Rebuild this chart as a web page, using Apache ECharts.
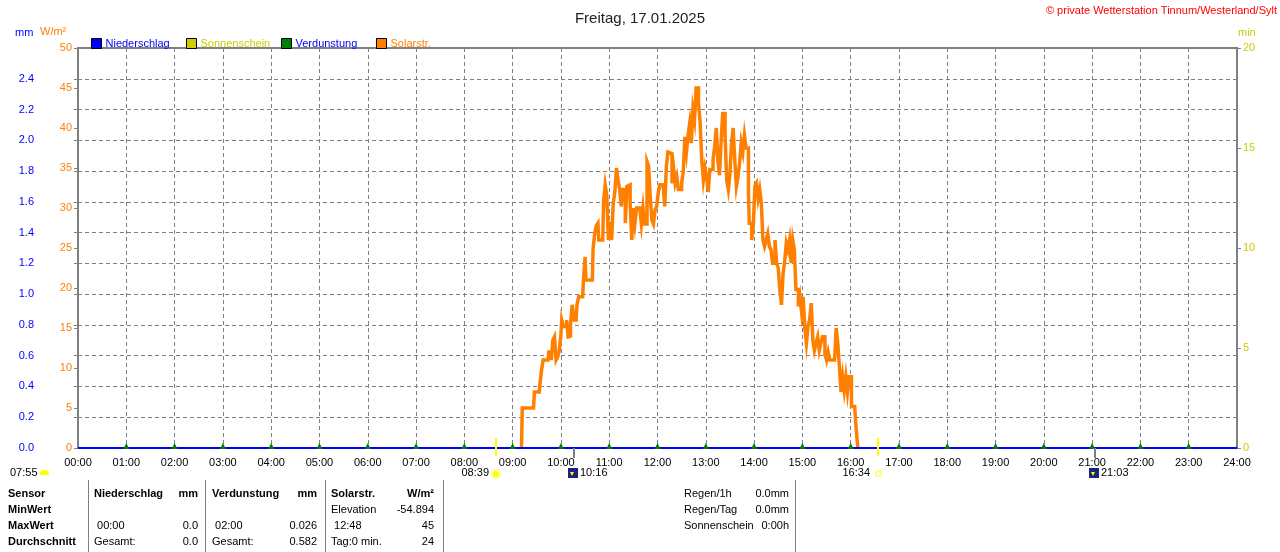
<!DOCTYPE html>
<html>
<head>
<meta charset="utf-8">
<style>
  html, body { margin: 0; padding: 0; background: #fff; }
  #chart { width: 1280px; height: 552px; }
</style>
<script src="https://cdn.jsdelivr.net/npm/echarts@6/dist/echarts.min.js"></script>
</head>
<body>
<div id="chart"></div>
<script>
  const FONT = '"Liberation Sans", Arial, sans-serif';

  // Solarstrahlung (W/m²), Zeit in Minuten seit 00:00
  const solarMinutes = [
    551, 552, 566, 567, 573, 574, 576, 578, 584, 585, 586, 588, 590, 592, 594, 596, 598, 600, 601,
    603, 607, 609, 611, 612, 614, 616, 619, 620, 622, 627, 628, 630, 631, 639, 640, 642, 644, 646, 647,
    652, 653, 655, 657, 659, 661, 663, 665, 667, 669, 671, 673, 675, 677, 680, 682, 684, 686, 688, 690,
    692, 694, 698, 700, 702, 704, 707, 709, 711, 713, 715, 717, 719, 721, 723, 727, 729, 731, 733, 735,
    738, 740, 742, 744, 746, 750, 752, 754, 756, 758, 760, 762, 764, 766, 768, 771, 773, 775, 777, 779,
    781, 783, 785, 789, 791, 793, 795, 797, 799, 801, 804, 806, 808, 810, 812, 814, 816, 818, 820, 822,
    824, 826, 828, 830, 833, 834, 837, 839, 841, 843, 845, 847, 849, 851, 853, 855, 857, 859, 861, 863,
    866, 868, 870, 872, 874, 876, 878, 880, 882, 884, 886, 888, 890, 892, 895, 897, 899, 901, 903, 905,
    907, 909, 911, 913, 915, 917, 919, 921, 923, 925, 928, 930, 932, 934, 940, 942, 944, 946, 948, 950,
    952, 954, 956, 958, 961, 965, 966, 968, 969
  ];
  const solarValues = [
    0, 5, 5, 7, 7, 8, 9.8, 11, 11, 12, 12, 11, 13.5, 13.9, 11, 11.4, 12.2, 14.2, 16,
    15.2, 16, 13.9, 14, 15.6, 17.9, 16, 16.4, 17.9, 18.9, 18.9, 21, 23.9, 21, 21, 25, 26.8, 27.8, 28.1, 26,
    26, 30.8, 32.9, 31.6, 26, 28.3, 26, 30.6, 32, 35, 33.5, 32.3, 30.2, 32.3, 28.1, 32.7, 32.9, 30.6, 26, 30,
    28.1, 30, 30, 28, 30, 28, 35.8, 35.2, 31.4, 28.5, 28, 29.8, 30.2, 32, 32.9, 32.9, 30.2, 35.2, 37, 36.8,
    33.1, 35, 33.1, 33.9, 32.3, 33.1, 34.5, 38.9, 37, 39.1, 40.6, 38.1, 42.3, 41, 45, 43.1, 40.6, 36, 33.5, 35,
    33.9, 32, 34.8, 36, 37.7, 40, 36, 34.1, 38.3, 41.8, 38.9, 33.5, 32.3, 34.3, 38.1, 40, 36, 32.7, 33.9, 35.6,
    38.1, 37, 39.1, 37.5, 32, 28.1, 26, 27.7, 32.7, 33.1, 31.2, 32.3, 30.6, 26, 25.2, 26, 26.8, 25.2, 24.8, 23.1,
    26, 23.1, 22.5, 19.8, 17.9, 21.8, 23.3, 25.6, 24.8, 26, 23.1, 26, 24.8, 19.8, 17.7, 18.9, 17, 18.9, 15, 13.1,
    15.2, 16, 18.1, 13.5, 12.2, 13.1, 13.9, 12.2, 13.1, 13.9, 11.8, 11, 12, 11, 11, 15, 13.1, 10.2, 7, 8.9,
    7.2, 8.9, 7, 8.9, 5.2, 5, 3.5, 1, 0
  ];

  // Niederschlag (mm)
  const rainMinutes = [0, 1440];
  const rainValues = [0, 0];

  // Verdunstung (mm), stündliche Marker
  const evapMinutes = [60, 120, 180, 240, 300, 360, 420, 480, 540, 600, 660, 720,
    780, 840, 900, 960, 1020, 1080, 1140, 1200, 1260, 1320, 1380];
  const evapValues = [0, 0, 0, 0, 0, 0, 0, 0, 0, 0, 0, 0, 0, 0, 0, 0, 0, 0, 0, 0, 0, 0, 0];

  // Sonnen-/Mondereignisse
  const events = [
    { time: "08:39", kind: "sunrise" },
    { time: "10:16", kind: "moonset" },
    { time: "16:34", kind: "sunset" },
    { time: "21:03", kind: "moonrise" },
  ];

  // Tabelle unten
  const tableHeader = ["Sensor", "Niederschlag", "mm", "Verdunstung", "mm", "Solarstr.", "W/m²"];
  const tableRowLabels = ["MinWert", "MaxWert", "Durchschnitt"];
  const rainCells = [["", ""], [" 00:00", "0.0"], ["Gesamt:", "0.0"]];
  const evapCells = [["", ""], [" 02:00", "0.026"], ["Gesamt:", "0.582"]];
  const solarCells = [["Elevation", "-54.894"], [" 12:48", "45"], ["Tag:0 min.", "24"]];
  const summaryLabels = ["Regen/1h", "Regen/Tag", "Sonnenschein"];
  const summaryValues = ["0.0mm", "0.0mm", "0:00h"];

  const colors = {
    rain: "#0000ff",
    sun: "#cccc00",
    evap: "#008000",
    solar: "#ff8000",
    grid: "#808080",
  };

  function pad(n) {
    return String(n).padStart(2, "0");
  }

  function toMin(hhmm) {
    const [h, m] = hhmm.split(":").map(Number);
    return h * 60 + m;
  }

  function zip(xs, ys) {
    return xs.map((x, i) => [x, ys[i]]);
  }

  function legendFor(name, left, color) {
    return {
      data: [name],
      left: left,
      top: 33,
      icon: "rect",
      itemWidth: 10,
      itemHeight: 10,
      selectedMode: false,
      itemStyle: { borderColor: "#000", borderWidth: 1 },
      textStyle: { color: color, fontSize: 11, fontFamily: FONT, padding: [1, 0, 0, -1] },
    };
  }

  function text(x, y, str, opts) {
    return {
      type: "text",
      silent: true,
      style: Object.assign(
        { x: x, y: y, text: str, fill: "#000", font: "11px " + FONT, align: "left", verticalAlign: "middle" },
        opts || {},
      ),
    };
  }

  const chart = echarts.init(document.getElementById("chart"));

  const option = {
    animation: false,
    backgroundColor: "#fff",
    textStyle: { fontFamily: FONT },
    title: {
      text: "Freitag, 17.01.2025",
      left: "center",
      top: 6,
      textStyle: { fontSize: 15, fontWeight: "normal", color: "#222", fontFamily: FONT },
    },
    legend: [
      legendFor("Niederschlag", 86, colors.rain),
      legendFor("Sonnenschein", 181, colors.sun),
      legendFor("Verdunstung", 276, colors.rain),
      legendFor("Solarstr.", 371, colors.solar),
    ],
    grid: {
      left: 78,
      right: 43,
      top: 48,
      bottom: 104,
      show: true,
      backgroundColor: "#fff",
      borderColor: colors.grid,
      borderWidth: 2,
    },
    xAxis: {
      type: "value",
      min: 0,
      max: 1440,
      interval: 60,
      axisLine: { show: false },
      axisTick: { show: false },
      axisLabel: {
        color: "#000",
        fontSize: 11,
        margin: 9,
        formatter: (v) => `${pad(Math.floor(v / 60))}:00`,
      },
      splitLine: { show: true, lineStyle: { color: colors.grid, type: [4, 3], width: 1 } },
    },
    yAxis: [
      {
        type: "value",
        min: 0,
        max: 2.6,
        interval: 0.2,
        position: "left",
        offset: 38,
        axisLine: { show: true, lineStyle: { color: colors.grid, width: 1 } },
        axisTick: { show: true, length: 4, lineStyle: { color: colors.grid } },
        axisLabel: {
          color: colors.rain,
          fontSize: 11,
          margin: 6,
          showMaxLabel: false,
          formatter: (v) => v.toFixed(1),
        },
        splitLine: { show: true, lineStyle: { color: colors.grid, type: [4, 3], width: 1 } },
      },
      {
        type: "value",
        min: 0,
        max: 50,
        interval: 5,
        position: "left",
        axisLine: { show: false },
        axisTick: { show: true, length: 4, lineStyle: { color: colors.grid } },
        axisLabel: { color: colors.solar, fontSize: 11, margin: 6 },
        splitLine: { show: false },
      },
      {
        type: "value",
        min: 0,
        max: 20,
        interval: 5,
        position: "right",
        axisLine: { show: false },
        axisTick: { show: true, length: 4, lineStyle: { color: colors.grid } },
        axisLabel: { color: colors.sun, fontSize: 11, margin: 6 },
        splitLine: { show: false },
      },
    ],
    series: [
      {
        name: "Niederschlag",
        type: "line",
        yAxisIndex: 0,
        data: zip(rainMinutes, rainValues),
        showSymbol: false,
        itemStyle: { color: colors.rain },
        lineStyle: { color: colors.rain, width: 2 },
        z: 6,
      },
      {
        name: "Sonnenschein",
        type: "line",
        yAxisIndex: 2,
        data: [],
        itemStyle: { color: colors.sun },
      },
      {
        name: "Verdunstung",
        type: "line",
        yAxisIndex: 0,
        data: zip(evapMinutes, evapValues),
        symbol: "triangle",
        symbolSize: [6, 6],
        symbolOffset: [0, -2],
        itemStyle: { color: colors.evap },
        lineStyle: { width: 0 },
        z: 7,
      },
      {
        name: "Solarstr.",
        type: "line",
        yAxisIndex: 1,
        data: zip(solarMinutes, solarValues),
        step: "end",
        showSymbol: false,
        itemStyle: { color: colors.solar },
        lineStyle: { color: colors.solar, width: 3.5, join: "miter" },
        z: 5,
      },
    ],
  };

  chart.setOption(option);

  const graphics = [];

  // axis names and header texts
  graphics.push(text(15, 33, "mm", { fill: colors.rain }));
  graphics.push(text(40, 32, "W/m²", { fill: colors.solar }));
  graphics.push(text(1238, 33, "min", { fill: colors.sun }));
  graphics.push(
    text(1277, 11, "© private Wetterstation Tinnum/Westerland/Sylt", { fill: "#ff0000", align: "right" }),
  );

  // sun / moon events
  const baseY = chart.convertToPixel({ yAxisIndex: 0 }, 0);
  graphics.push(text(10, 473, "07:55"));
  graphics.push({
    type: "rect",
    silent: true,
    shape: { x: 40, y: 470, width: 9, height: 5, r: [4, 4, 0, 0] },
    style: { fill: "#ffff00" },
  });
  events.forEach((ev) => {
    const x = Math.round(chart.convertToPixel({ xAxisIndex: 0 }, toMin(ev.time)));
    if (ev.kind === "sunrise" || ev.kind === "sunset") {
      graphics.push({
        type: "line",
        silent: true,
        shape: { x1: x, y1: baseY - 10, x2: x, y2: baseY + 8 },
        style: { stroke: "#ffff00", lineWidth: 2 },
        z: 10,
      });
    } else {
      graphics.push({
        type: "line",
        silent: true,
        shape: { x1: x, y1: baseY, x2: x, y2: baseY + 10 },
        style: { stroke: colors.grid, lineWidth: 2 },
        z: 10,
      });
    }
    if (ev.kind === "sunrise") {
      graphics.push(text(x - 7, 473, ev.time, { align: "right" }));
      graphics.push({
        type: "circle",
        silent: true,
        shape: { cx: x, cy: 474, r: 4 },
        style: { fill: "#ffff00", stroke: "#ffff99", lineWidth: 2 },
      });
    } else if (ev.kind === "sunset") {
      graphics.push(text(x - 8, 473, ev.time, { align: "right" }));
      graphics.push({
        type: "rect",
        silent: true,
        shape: { x: x - 2, y: 471, width: 5, height: 5 },
        style: { fill: "#fff", stroke: "#ffff00", lineWidth: 1 },
      });
    } else {
      graphics.push({
        type: "rect",
        silent: true,
        shape: { x: x - 6, y: 468, width: 10, height: 10 },
        style: { fill: "#1a237e" },
      });
      graphics.push({
        type: "polygon",
        silent: true,
        shape: { points: [[x - 4, 472], [x, 472], [x - 2, 476]] },
        style: { fill: "#ffff00" },
      });
      graphics.push(text(x + 6, 473, ev.time));
    }
  });

  // bottom table
  const rowY = [494, 510, 526, 542];
  const bold = { font: "bold 11px " + FONT };
  graphics.push(text(8, rowY[0], tableHeader[0], bold));
  tableRowLabels.forEach((label, i) => graphics.push(text(8, rowY[i + 1], label, bold)));

  const groups = [
    { left: 94, right: 198, title: tableHeader[1], unit: tableHeader[2], cells: rainCells },
    { left: 212, right: 317, title: tableHeader[3], unit: tableHeader[4], cells: evapCells },
    { left: 331, right: 434, title: tableHeader[5], unit: tableHeader[6], cells: solarCells },
  ];
  groups.forEach((g) => {
    graphics.push(text(g.left, rowY[0], g.title, bold));
    graphics.push(text(g.right, rowY[0], g.unit, Object.assign({ align: "right" }, bold)));
    g.cells.forEach((cell, i) => {
      graphics.push(text(g.left, rowY[i + 1], cell[0]));
      graphics.push(text(g.right, rowY[i + 1], cell[1], { align: "right" }));
    });
  });
  summaryLabels.forEach((label, i) => {
    graphics.push(text(684, rowY[i], label));
    graphics.push(text(789, rowY[i], summaryValues[i], { align: "right" }));
  });
  [88, 205, 325, 443, 795].forEach((x) => {
    graphics.push({
      type: "line",
      silent: true,
      shape: { x1: x + 0.5, y1: 480, x2: x + 0.5, y2: 552 },
      style: { stroke: colors.grid, lineWidth: 1 },
    });
  });

  chart.setOption({ graphic: graphics });
</script>
</body>
</html>
